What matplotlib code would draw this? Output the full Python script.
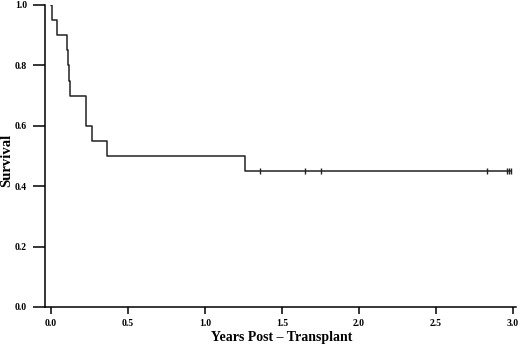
import matplotlib.pyplot as plt
import numpy as np

# Kaplan-Meier curve
event_times = [0.0, 0.005, 0.038, 0.100, 0.110, 0.118, 0.125, 0.226, 0.265, 0.362, 1.26, 2.99]
survival = [1.0, 0.95, 0.90, 0.85, 0.80, 0.75, 0.70, 0.60, 0.55, 0.50, 0.45, 0.45]
censor_times = [1.36, 1.65, 1.75, 2.83, 2.96, 2.975, 2.99]
censor_surv = [0.45] * len(censor_times)

x_ticks = [0.0, 0.5, 1.0, 1.5, 2.0, 2.5, 3.0]
y_ticks = [0.0, 0.2, 0.4, 0.6, 0.8, 1.0]

plt.rcParams['font.family'] = ['Liberation Serif', 'DejaVu Serif']

fig = plt.figure(figsize=(5.2, 3.48), dpi=100)
ax = fig.add_axes([45 / 520, 41 / 348, 471 / 520, 302 / 348])

ax.step(event_times, survival, where='post', color='#222222', lw=1.1)
ax.plot(censor_times, censor_surv, ls='none', marker='|', ms=5, mew=1.0, color='#222222')

ax.set_xlim(-0.04, 3.02)
ax.set_ylim(0, 1.0)
ax.spines['top'].set_visible(False)
ax.spines['right'].set_visible(False)
for s in ['left', 'bottom']:
    ax.spines[s].set_linewidth(1.1)

ax.set_xticks(x_ticks)
ax.set_xticklabels(['%.1f' % v for v in x_ticks], fontsize=7, fontweight='bold')
ax.set_yticks(y_ticks)
ax.set_yticklabels(['%.1f' % v for v in y_ticks], fontsize=7, fontweight='bold')
ax.tick_params(axis='x', length=5, width=1.1, pad=4)
ax.tick_params(axis='y', length=9, width=1.1, pad=4)

ax.set_xlabel('Years Post \u2013 Transplant', fontsize=10, fontweight='bold')
ax.set_ylabel('Survival', fontsize=10.5, fontweight='bold')
ax.xaxis.set_label_coords(0.503, -0.08)
ax.yaxis.set_label_coords(-0.068, 0.487)

fig.savefig('out.png', dpi=100)
